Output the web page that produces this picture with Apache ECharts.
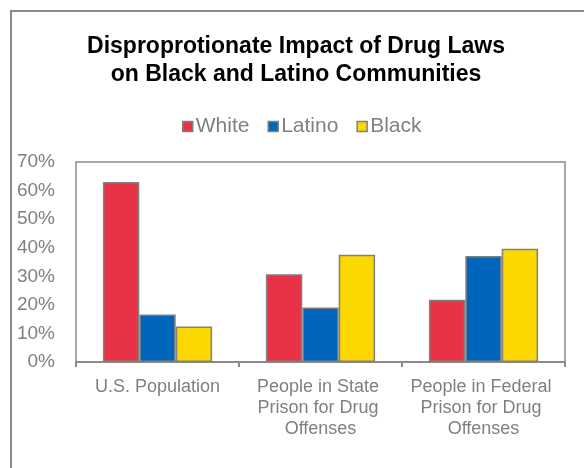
<!DOCTYPE html>
<html>
<head>
<meta charset="utf-8">
<script src="https://cdn.jsdelivr.net/npm/echarts@6/dist/echarts.min.js"></script>
<style>html,body{margin:0;padding:0;background:#fff;}#c{width:584px;height:468px;}</style>
</head>
<body>
<div id="c"></div>
<script>
const categories = ["U.S. Population", "People in State Prison for Drug Offenses", "People in Federal Prison for Drug Offenses"];
const seriesNames = ["White", "Latino", "Black"];
const white = [63, 30.7, 21.8];
const latino = [16.6, 19.1, 37.1];
const black = [12.4, 37.5, 39.6];
const yTicks = [0, 10, 20, 30, 40, 50, 60, 70];

const colors = ["#E83346", "#0066BB", "#FCD800"];
const values = [white, latino, black];
const font = "Liberation Sans, Arial, sans-serif";
const gray = "#808080";

const chart = echarts.init(document.getElementById('c'), null, {renderer: 'canvas'});
chart.setOption({
  animation: false,
  backgroundColor: '#fff',
  textStyle: {fontFamily: font},
  graphic: [{
    type: 'rect', shape: {x: 11, y: 11, width: 620, height: 620},
    style: {fill: 'none', stroke: '#8a8a8a', lineWidth: 2}, silent: true, z: -1
  }],
  title: {
    text: "Disproprotionate Impact of Drug Laws\non Black and Latino Communities",
    left: 291, top: 28, textAlign: 'center',
    textStyle: {fontFamily: font, fontSize: 23, fontWeight: 'bold', color: '#000', lineHeight: 28}
  },
  legend: {
    data: seriesNames, left: 182, top: 116, padding: 0,
    itemWidth: 10, itemHeight: 10, itemGap: 18,
    icon: 'rect',
    textStyle: {fontFamily: font, fontSize: 21, color: gray, padding: [0, 0, 0, -2]},
    itemStyle: {borderColor: gray, borderWidth: 1.5}
  },
  grid: {left: 76, top: 162, right: 19, bottom: 106, show: true, borderColor: '#8a8a8a', borderWidth: 1.5, containLabel: false},
  xAxis: {
    type: 'category', data: categories,
    axisLine: {show: true, lineStyle: {color: '#8a8a8a', width: 2}},
    axisTick: {show: true, length: 5, lineStyle: {color: '#8a8a8a', width: 2}},
    axisLabel: {interval: 0, width: 152, overflow: 'break', margin: 15, fontFamily: font, fontSize: 18, color: gray, lineHeight: 21, align: 'center'}
  },
  yAxis: {
    type: 'value', min: yTicks[0], max: yTicks[yTicks.length - 1], interval: 10,
    axisLine: {show: false}, axisTick: {show: false}, splitLine: {show: false},
    axisLabel: {formatter: '{value}%', margin: 21, fontFamily: font, fontSize: 19, color: gray}
  },
  series: seriesNames.map((n, i) => ({
    name: n, type: 'bar', data: values[i],
    barGap: '0%', barCategoryGap: '33%',
    itemStyle: {color: colors[i], borderColor: gray, borderWidth: 1.5}
  }))
});
</script>
</body>
</html>
